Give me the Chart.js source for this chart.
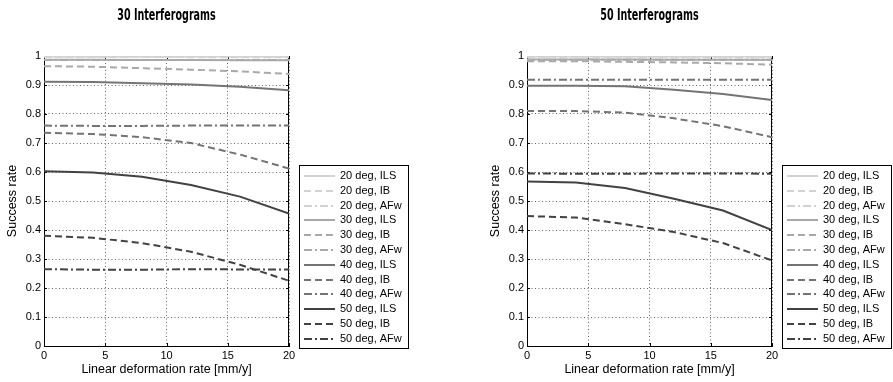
<!DOCTYPE html>
<html>
<head>
<meta charset="utf-8">
<script src="https://cdn.jsdelivr.net/npm/chart.js@4.4.0/dist/chart.umd.min.js"></script>
<style>
    body { margin: 0; background: #fff; width: 893px; height: 382px; position: relative; overflow: hidden; }
    .panel { position: absolute; top: 0; width: 410px; height: 382px; }
    #panel30 { left: 0; }
    #panel50 { left: 483px; }
</style>
</head>
<body>
<div class="panel" id="panel30"><canvas id="chart30" width="410" height="382"></canvas></div>
<div class="panel" id="panel50"><canvas id="chart50" width="410" height="382"></canvas></div>
<script>
// ========= DATA =========
const rates = [0, 4, 8, 12, 16, 20];
const xTicks = [0, 5, 10, 15, 20];
const seriesLabels = [
    '20 deg, ILS', '20 deg, IB', '20 deg, AFw',
    '30 deg, ILS', '30 deg, IB', '30 deg, AFw',
    '40 deg, ILS', '40 deg, IB', '40 deg, AFw',
    '50 deg, ILS', '50 deg, IB', '50 deg, AFw'
];

// 30 interferograms
const ils20_30 = [0.998, 0.998, 0.998, 0.998, 0.998, 0.998];
const ib20_30  = [0.997, 0.997, 0.997, 0.996, 0.996, 0.996];
const afw20_30 = [0.998, 0.998, 0.998, 0.998, 0.998, 0.998];
const ils30_30 = [0.987, 0.987, 0.986, 0.986, 0.985, 0.985];
const ib30_30  = [0.965, 0.963, 0.958, 0.953, 0.947, 0.938];
const afw30_30 = [0.986, 0.986, 0.986, 0.986, 0.986, 0.986];
const ils40_30 = [0.911, 0.910, 0.906, 0.902, 0.894, 0.882];
const ib40_30  = [0.735, 0.731, 0.720, 0.700, 0.660, 0.612];
const afw40_30 = [0.760, 0.759, 0.759, 0.760, 0.760, 0.760];
const ils50_30 = [0.603, 0.598, 0.584, 0.555, 0.515, 0.457];
const ib50_30  = [0.380, 0.373, 0.355, 0.325, 0.280, 0.225];
const afw50_30 = [0.265, 0.263, 0.263, 0.265, 0.264, 0.264];

// 50 interferograms
const ils20_50 = [0.998, 0.998, 0.998, 0.998, 0.998, 0.998];
const ib20_50  = [0.997, 0.997, 0.997, 0.997, 0.997, 0.997];
const afw20_50 = [0.998, 0.998, 0.998, 0.998, 0.998, 0.998];
const ils30_50 = [0.988, 0.988, 0.988, 0.987, 0.987, 0.987];
const ib30_50  = [0.982, 0.982, 0.980, 0.978, 0.975, 0.970];
const afw30_50 = [0.987, 0.987, 0.987, 0.987, 0.987, 0.987];
const ils40_50 = [0.897, 0.897, 0.896, 0.884, 0.869, 0.848];
const ib40_50  = [0.810, 0.810, 0.805, 0.785, 0.758, 0.720];
const afw40_50 = [0.918, 0.918, 0.918, 0.918, 0.918, 0.918];
const ils50_50 = [0.567, 0.564, 0.545, 0.508, 0.467, 0.400];
const ib50_50  = [0.448, 0.443, 0.420, 0.393, 0.355, 0.295];
const afw50_50 = [0.595, 0.594, 0.594, 0.595, 0.595, 0.594];

// ========= STYLES =========
const degreeColors = ['#d2d2d2', '#a9a9a9', '#747474', '#424242'];
const methodDashes = [[], [7, 4], [8, 3, 2, 3]];
const FONT = '"Liberation Sans", Arial, Helvetica, sans-serif';

Chart.defaults.font.family = FONT;
Chart.defaults.font.size = 11;
Chart.defaults.color = '#000';

function buildDatasets(series) {
    return series.map((values, i) => ({
        label: seriesLabels[i],
        data: values,
        borderColor: degreeColors[Math.floor(i / 3)],
        backgroundColor: degreeColors[Math.floor(i / 3)],
        borderWidth: 2,
        borderDash: methodDashes[i % 3],
        pointRadius: 0,
        tension: 0,
        fill: false
    }));
}

// ========= PLUGINS =========
// box round the axes, with short ticks pointing inward
const axesFrame = {
    id: 'axesFrame',
    beforeDatasetsDraw(chart) {
        const { ctx, chartArea: a, scales: { x, y } } = chart;
        ctx.save();
        ctx.strokeStyle = '#000';
        ctx.lineWidth = 1;
        ctx.strokeRect(a.left + 0.5, a.top + 0.5, a.right - a.left - 1, a.bottom - a.top);
        ctx.beginPath();
        x.ticks.forEach(t => {
            const px = Math.round(x.getPixelForValue(t.value)) + 0.5;
            ctx.moveTo(px, a.bottom); ctx.lineTo(px, a.bottom - 3);
            ctx.moveTo(px, a.top); ctx.lineTo(px, a.top + 3);
        });
        y.ticks.forEach(t => {
            const py = Math.round(y.getPixelForValue(t.value)) + 0.5;
            ctx.moveTo(a.left, py); ctx.lineTo(a.left + 3, py);
            ctx.moveTo(a.right, py); ctx.lineTo(a.right - 3, py);
        });
        ctx.stroke();
        ctx.restore();
    }
};

// framed legend to the right of the axes
const boxLegend = {
    id: 'boxLegend',
    afterDraw(chart) {
        const { ctx, chartArea: a } = chart;
        const left = a.right + 10, top = 165, w = 109, h = 183, row = 14.8;
        ctx.save();
        ctx.fillStyle = '#fff';
        ctx.fillRect(left, top, w, h);
        ctx.strokeStyle = '#000';
        ctx.lineWidth = 1;
        ctx.strokeRect(left + 0.5, top + 0.5, w, h);
        ctx.font = '11px ' + FONT;
        ctx.textBaseline = 'middle';
        chart.data.datasets.forEach((ds, i) => {
            const cy = Math.round(top + 11 + i * row);
            ctx.strokeStyle = ds.borderColor;
            ctx.lineWidth = ds.borderWidth;
            ctx.setLineDash(ds.borderDash);
            ctx.beginPath();
            ctx.moveTo(left + 5, cy);
            ctx.lineTo(left + 36, cy);
            ctx.stroke();
            ctx.setLineDash([]);
            ctx.fillStyle = '#000';
            ctx.fillText(ds.label, left + 41, cy);
        });
        ctx.restore();
    }
};

// bold, narrow title centred over the axes
const panelTitle = {
    id: 'panelTitle',
    afterDraw(chart, args, opts) {
        const { ctx, chartArea: a } = chart;
        ctx.save();
        ctx.font = 'bold 16.5px "DejaVu Sans", Arial, sans-serif';
        ctx.fillStyle = '#000';
        ctx.textAlign = 'center';
        ctx.textBaseline = 'middle';
        ctx.translate((a.left + a.right) / 2, 16);
        ctx.scale(0.58, 1);
        ctx.fillText(opts.text, 0, 0);
        ctx.restore();
    }
};

// ========= CHART =========
function makeChart(id, title, series) {
    return new Chart(document.getElementById(id), {
        type: 'line',
        data: {
            labels: rates,
            datasets: buildDatasets(series)
        },
        plugins: [axesFrame, boxLegend, panelTitle],
        options: {
            responsive: false,
            animation: false,
            layout: { padding: { top: 56, right: 121, bottom: 0, left: 0 } },
            scales: {
                x: {
                    type: 'linear',
                    min: 0,
                    max: 20,
                    afterFit: s => { s.height = 36; },
                    afterBuildTicks: s => { s.ticks = xTicks.map(v => ({ value: v })); },
                    grid: { color: '#666', drawTicks: false },
                    border: { display: true, color: '#000', dash: [1, 2.5] },
                    ticks: { padding: 3, maxRotation: 0 },
                    title: {
                        display: true,
                        text: 'Linear deformation rate [mm/y]',
                        font: { size: 12.5 },
                        padding: { top: 0, bottom: 5 }
                    }
                },
                y: {
                    min: 0,
                    max: 1,
                    afterFit: s => { s.width = 44; },
                    grid: { color: '#666', drawTicks: false },
                    border: { display: true, color: '#000', dash: [1, 2.5] },
                    ticks: {
                        stepSize: 0.1,
                        padding: 3,
                        callback: v => String(Math.round(v * 10) / 10)
                    },
                    title: {
                        display: true,
                        text: 'Success rate',
                        font: { size: 12.5 },
                        padding: { top: 5, bottom: 0 }
                    }
                }
            },
            plugins: {
                legend: { display: false },
                tooltip: { enabled: false },
                panelTitle: { text: title }
            }
        }
    });
}

makeChart('chart30', '30 Interferograms', [
    ils20_30, ib20_30, afw20_30, ils30_30, ib30_30, afw30_30,
    ils40_30, ib40_30, afw40_30, ils50_30, ib50_30, afw50_30
]);
makeChart('chart50', '50 Interferograms', [
    ils20_50, ib20_50, afw20_50, ils30_50, ib30_50, afw30_50,
    ils40_50, ib40_50, afw40_50, ils50_50, ib50_50, afw50_50
]);
</script>
</body>
</html>
